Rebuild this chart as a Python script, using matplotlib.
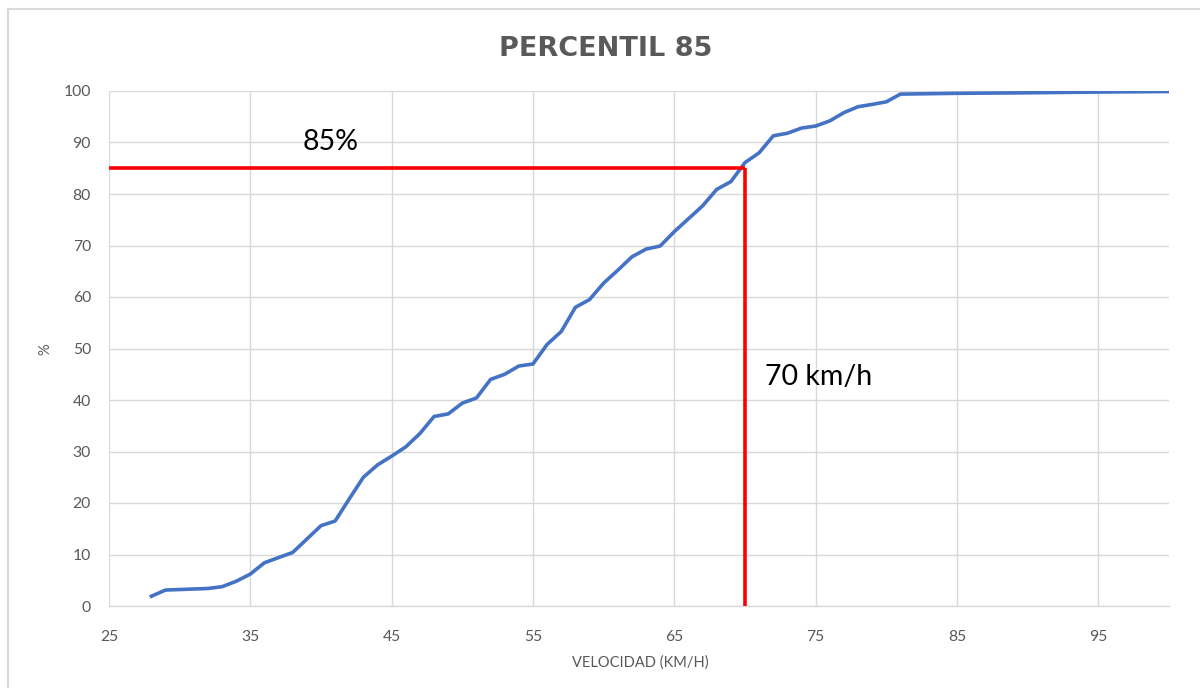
import matplotlib
matplotlib.use("Agg")
import matplotlib.pyplot as plt
from matplotlib.lines import Line2D

# ---- data ----
velocidad = [28, 29, 30, 31, 32, 33, 34, 35, 36, 37, 38, 39, 40, 41, 42, 43, 44, 45,
             46, 47, 48, 49, 50, 51, 52, 53, 54, 55, 56, 57, 58, 59, 60, 61, 62, 63,
             64, 65, 66, 67, 68, 69, 70, 71, 72, 73, 74, 75, 76, 77, 78, 79, 80, 81,
             85, 90, 95, 100]
porcentaje = [1.9, 3.1, 3.2, 3.3, 3.4, 3.75, 4.8, 6.2, 8.4, 9.4, 10.4, 13.0, 15.6, 16.5,
              20.8, 25.0, 27.4, 29.1, 30.9, 33.5, 36.8, 37.3, 39.4, 40.4, 44.0, 45.0,
              46.6, 47.0, 50.8, 53.3, 58.0, 59.5, 62.7, 65.2, 67.8, 69.3, 69.9, 72.7,
              75.2, 77.7, 80.9, 82.4, 86.1, 88.0, 91.3, 91.8, 92.8, 93.2, 94.2, 95.8,
              96.95, 97.4, 97.9, 99.4, 99.55, 99.65, 99.8, 99.9]
p85_vel = 70
p85_pct = 85
x_ticks = [25, 35, 45, 55, 65, 75, 85, 95]
y_ticks = [0, 10, 20, 30, 40, 50, 60, 70, 80, 90, 100]

GRAY = "#595959"
GRID = "#D9D9D9"

fig = plt.figure(figsize=(12, 6.88), dpi=100)
ax = fig.add_axes([109/1200, 1 - 606/688, (1169-109)/1200, (606-91)/688])

# outer chart border
fig.add_artist(Line2D([8/1200, 8/1200], [1 - 9/688, 0], transform=fig.transFigure,
                      color=GRID, lw=1.5))
fig.add_artist(Line2D([8/1200, 1], [1 - 9/688, 1 - 9/688], transform=fig.transFigure,
                      color=GRID, lw=1.5))

ax.set_xlim(25, 100)
ax.set_ylim(0, 100)
ax.set_xticks(x_ticks)
ax.set_xticklabels([str(t) for t in x_ticks])
ax.set_yticks(y_ticks)
ax.grid(True, color=GRID, lw=1)
ax.set_axisbelow(True)
for s in ["left", "right", "top"]:
    ax.spines[s].set_visible(False)
ax.spines["bottom"].set_color(GRID)
ax.spines["bottom"].set_linewidth(1)
ax.tick_params(axis="both", length=0, colors=GRAY, labelsize=11.3)
ax.tick_params(axis="y", pad=13)
ax.tick_params(axis="x", pad=17)
for lab in ax.get_xticklabels() + ax.get_yticklabels():
    lab.set_fontfamily("Lato")

ax.plot(velocidad, porcentaje, color="#4472C4", lw=2.6, solid_joinstyle="round",
        zorder=3)

ax.plot([25, p85_vel], [p85_pct, p85_pct], color="#FF0000", lw=2.6, zorder=4,
        solid_capstyle="butt")
ax.plot([p85_vel, p85_vel], [0, p85_pct], color="#FF0000", lw=2.6, zorder=4,
        solid_capstyle="butt")

ax.text(303, 688 - 150, "85%", transform=None, fontsize=20.5, family="Lato",
        color="black", va="baseline", ha="left")
ax.text(765, 688 - 385, "70 km/h", transform=None, fontsize=20.5, family="Lato",
        color="black", va="baseline", ha="left")

fig.text(606/1200, 1 - 56/688, "PERCENTIL 85", fontsize=19.5, family="DejaVu Sans",
         fontweight="bold", color=GRAY, ha="center", va="baseline")

fig.text(640/1200, 1 - 667/688, "VELOCIDAD (KM/H)", fontsize=10.5, family="Lato",
         color=GRAY, ha="center", va="baseline")
fig.text(45/1200, 1 - 349/688, "%", fontsize=10.5, family="Lato", color=GRAY,
         ha="center", va="center", rotation=90)

fig.savefig("out.png", dpi=100)
